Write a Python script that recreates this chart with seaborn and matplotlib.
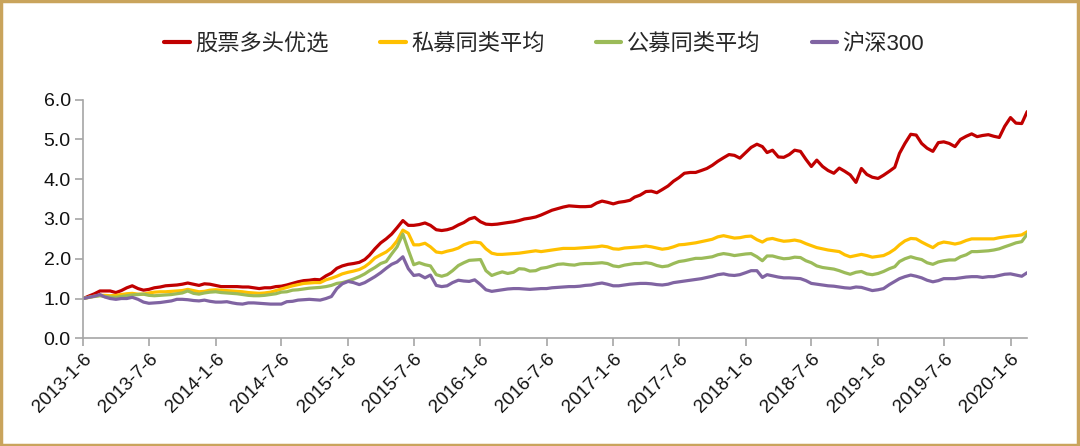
import pandas as pd
import seaborn as sns
import matplotlib.pyplot as plt
from matplotlib.patches import Rectangle

# readings on the 6th and 21st of each month, 2013-01 .. 2020-02
dates_6th = pd.date_range('2013-01-01', periods=86, freq='MS') + pd.Timedelta(days=5)
dates_21st = pd.date_range('2013-01-01', periods=86, freq='MS') + pd.Timedelta(days=20)

series_names = ['股票多头优选', '私募同类平均', '公募同类平均', '沪深300']

stock_long_6th = [
    1.00, 1.12, 1.19, 1.15, 1.27, 1.25, 1.23, 1.29, 1.33, 1.36, 1.36, 1.37,
    1.33, 1.30, 1.30, 1.29, 1.25, 1.27, 1.31, 1.38, 1.45, 1.48, 1.57, 1.76,
    1.86, 1.91, 2.09, 2.40, 2.62, 2.96, 2.84, 2.90, 2.73, 2.73, 2.85, 3.00,
    2.93, 2.86, 2.89, 2.93, 3.00, 3.05, 3.16, 3.26, 3.33, 3.31, 3.32, 3.45,
    3.38, 3.44, 3.55, 3.69, 3.66, 3.83, 4.04, 4.17, 4.22, 4.35, 4.54, 4.60,
    4.67, 4.88, 4.67, 4.56, 4.62, 4.70, 4.32, 4.32, 4.15, 4.20, 3.92, 4.12,
    4.02, 4.20, 4.65, 5.13, 4.90, 4.70, 4.94, 4.82, 5.08, 5.07, 5.12, 5.05,
    5.55, 5.40,
]
stock_long_21st = [
    1.06, 1.19, 1.19, 1.20, 1.32, 1.21, 1.27, 1.32, 1.34, 1.39, 1.33, 1.36,
    1.30, 1.30, 1.29, 1.27, 1.27, 1.30, 1.34, 1.42, 1.46, 1.47, 1.64, 1.82,
    1.88, 1.98, 2.25, 2.50, 2.78, 2.84, 2.86, 2.84, 2.71, 2.77, 2.91, 3.04,
    2.87, 2.87, 2.91, 2.96, 3.02, 3.10, 3.22, 3.30, 3.32, 3.31, 3.40, 3.42,
    3.42, 3.47, 3.60, 3.70, 3.74, 3.95, 4.15, 4.17, 4.27, 4.45, 4.62, 4.53,
    4.80, 4.82, 4.73, 4.55, 4.73, 4.50, 4.48, 4.22, 4.28, 4.11, 4.27, 4.05,
    4.10, 4.30, 4.90, 5.11, 4.78, 4.92, 4.90, 5.00, 5.14, 5.10, 5.08, 5.33,
    5.41, 5.70,
]
private_avg_6th = [
    1.00, 1.06, 1.08, 1.08, 1.12, 1.11, 1.14, 1.17, 1.18, 1.20, 1.20, 1.18,
    1.22, 1.20, 1.18, 1.15, 1.13, 1.16, 1.24, 1.32, 1.38, 1.40, 1.47, 1.56,
    1.66, 1.73, 1.89, 2.10, 2.28, 2.72, 2.35, 2.39, 2.17, 2.19, 2.27, 2.40,
    2.40, 2.14, 2.11, 2.13, 2.16, 2.20, 2.20, 2.24, 2.26, 2.27, 2.29, 2.32,
    2.25, 2.27, 2.29, 2.32, 2.27, 2.26, 2.35, 2.38, 2.43, 2.49, 2.58, 2.52,
    2.56, 2.48, 2.49, 2.47, 2.45, 2.44, 2.33, 2.25, 2.20, 2.10, 2.08, 2.08,
    2.06, 2.15, 2.35, 2.51, 2.42, 2.28, 2.42, 2.37, 2.46, 2.50, 2.50, 2.53,
    2.57, 2.60,
]
private_avg_21st = [
    1.03, 1.08, 1.07, 1.10, 1.13, 1.11, 1.16, 1.17, 1.19, 1.23, 1.17, 1.21,
    1.21, 1.19, 1.17, 1.14, 1.14, 1.20, 1.28, 1.35, 1.39, 1.40, 1.51, 1.62,
    1.69, 1.80, 2.02, 2.17, 2.45, 2.64, 2.35, 2.30, 2.15, 2.22, 2.35, 2.42,
    2.25, 2.11, 2.12, 2.14, 2.18, 2.18, 2.22, 2.26, 2.26, 2.28, 2.30, 2.30,
    2.24, 2.28, 2.30, 2.30, 2.24, 2.30, 2.36, 2.40, 2.46, 2.55, 2.55, 2.53,
    2.57, 2.42, 2.51, 2.44, 2.47, 2.38, 2.28, 2.22, 2.18, 2.05, 2.11, 2.04,
    2.08, 2.24, 2.45, 2.50, 2.35, 2.38, 2.40, 2.40, 2.50, 2.50, 2.50, 2.55,
    2.58, 2.68,
]
public_avg_6th = [
    1.00, 1.05, 1.05, 1.03, 1.07, 1.10, 1.08, 1.08, 1.10, 1.14, 1.13, 1.14,
    1.17, 1.14, 1.12, 1.08, 1.07, 1.10, 1.16, 1.21, 1.24, 1.27, 1.30, 1.38,
    1.44, 1.55, 1.70, 1.88, 2.12, 2.62, 1.85, 1.85, 1.60, 1.60, 1.83, 1.96,
    1.98, 1.58, 1.67, 1.66, 1.74, 1.70, 1.78, 1.86, 1.85, 1.87, 1.88, 1.90,
    1.82, 1.84, 1.88, 1.90, 1.83, 1.82, 1.93, 1.98, 2.01, 2.05, 2.13, 2.08,
    2.12, 2.05, 2.07, 2.03, 2.01, 2.03, 1.90, 1.78, 1.74, 1.65, 1.66, 1.62,
    1.63, 1.75, 1.93, 2.05, 1.98, 1.86, 1.95, 1.97, 2.10, 2.18, 2.20, 2.25,
    2.35, 2.43,
]
public_avg_21st = [
    1.03, 1.07, 1.04, 1.05, 1.09, 1.11, 1.07, 1.09, 1.12, 1.19, 1.11, 1.16,
    1.15, 1.13, 1.10, 1.07, 1.08, 1.12, 1.17, 1.22, 1.26, 1.28, 1.33, 1.40,
    1.49, 1.62, 1.78, 1.93, 2.30, 2.22, 1.90, 1.82, 1.56, 1.70, 1.90, 1.97,
    1.70, 1.63, 1.63, 1.75, 1.69, 1.76, 1.82, 1.87, 1.84, 1.88, 1.89, 1.88,
    1.80, 1.86, 1.88, 1.88, 1.80, 1.88, 1.95, 2.01, 2.03, 2.10, 2.11, 2.10,
    2.13, 1.95, 2.07, 2.00, 2.04, 1.95, 1.82, 1.76, 1.70, 1.61, 1.68, 1.60,
    1.68, 1.80, 2.00, 2.01, 1.90, 1.92, 1.97, 2.05, 2.18, 2.19, 2.22, 2.30,
    2.40, 2.62,
]
csi300_6th = [
    1.00, 1.06, 1.04, 0.98, 1.00, 0.98, 0.88, 0.90, 0.94, 0.98, 0.95, 0.96,
    0.91, 0.92, 0.87, 0.89, 0.88, 0.86, 0.86, 0.93, 0.97, 0.97, 1.00, 1.25,
    1.43, 1.35, 1.47, 1.65, 1.86, 2.05, 1.58, 1.52, 1.33, 1.32, 1.46, 1.43,
    1.35, 1.18, 1.22, 1.25, 1.24, 1.24, 1.25, 1.28, 1.30, 1.31, 1.34, 1.39,
    1.32, 1.34, 1.37, 1.38, 1.35, 1.36, 1.42, 1.46, 1.50, 1.56, 1.62, 1.58,
    1.65, 1.70, 1.60, 1.54, 1.52, 1.50, 1.38, 1.34, 1.31, 1.27, 1.29, 1.24,
    1.22, 1.35, 1.50, 1.59, 1.52, 1.42, 1.50, 1.50, 1.54, 1.55, 1.55, 1.58,
    1.62, 1.56,
]
csi300_21st = [
    1.03, 1.10, 1.00, 1.00, 1.03, 0.91, 0.89, 0.92, 0.98, 0.97, 0.94, 0.93,
    0.91, 0.89, 0.86, 0.89, 0.87, 0.86, 0.92, 0.96, 0.98, 0.96, 1.05, 1.37,
    1.40, 1.40, 1.55, 1.76, 1.92, 1.75, 1.60, 1.59, 1.30, 1.40, 1.44, 1.47,
    1.22, 1.20, 1.24, 1.25, 1.23, 1.25, 1.27, 1.29, 1.30, 1.33, 1.37, 1.36,
    1.32, 1.36, 1.38, 1.37, 1.34, 1.40, 1.44, 1.48, 1.53, 1.60, 1.59, 1.60,
    1.70, 1.53, 1.57, 1.52, 1.51, 1.45, 1.36, 1.32, 1.29, 1.26, 1.28, 1.20,
    1.25, 1.43, 1.55, 1.56, 1.46, 1.45, 1.50, 1.52, 1.55, 1.53, 1.55, 1.61,
    1.59, 1.65,
]

colors = ['#C00000', '#FFC000', '#9BBB59', '#8064A2']

tick_dates = pd.date_range('2013-01-01', '2020-01-31', freq='6MS') + pd.Timedelta(days=5)
tick_labels = [f'{d.year}-{d.month}-{d.day}' for d in tick_dates]

part_6th = pd.DataFrame({'date': dates_6th,
                         series_names[0]: stock_long_6th,
                         series_names[1]: private_avg_6th,
                         series_names[2]: public_avg_6th,
                         series_names[3]: csi300_6th})
part_21st = pd.DataFrame({'date': dates_21st,
                          series_names[0]: stock_long_21st,
                          series_names[1]: private_avg_21st,
                          series_names[2]: public_avg_21st,
                          series_names[3]: csi300_21st})
df = pd.concat([part_6th, part_21st]).sort_values('date')
df = df.melt(id_vars='date', var_name='series', value_name='value')

sns.set_style('white')
plt.rcParams['font.family'] = ['Liberation Sans', 'Noto Sans CJK SC']

fig = plt.figure(figsize=(10.8, 4.46), dpi=100)
ax = fig.add_axes([0.0771, 0.2415, 0.874, 0.535])

sns.lineplot(data=df, x='date', y='value', hue='series', hue_order=series_names,
             palette=colors, linewidth=2.3, ax=ax, legend=False, sort=True)

ax.set_ylim(0, 6)
ax.set_yticks(range(7))
ax.set_yticklabels([f'{v:.1f}' for v in range(7)], fontsize=14, color='#111111')
ax.set_xlim(pd.Timestamp('2013-01-06'), pd.Timestamp('2020-02-21'))
ax.set_xticks(tick_dates)
ax.set_xticklabels(tick_labels, rotation=45, ha='right', rotation_mode='anchor',
                   fontsize=13.5, color='#111111')
ax.set_xlabel('')
ax.set_ylabel('')

for side in ['top', 'right']:
    ax.spines[side].set_visible(False)
for side in ['left', 'bottom']:
    ax.spines[side].set_color('#A6A6A6')
    ax.spines[side].set_linewidth(1.2)
ax.tick_params(axis='both', direction='out', length=6, width=1.2, color='#A6A6A6',
               pad=3, bottom=True, left=True)

handles = [plt.Line2D([], [], color=c, linewidth=3) for c in colors]
fig.legend(handles, series_names, loc='center', bbox_to_anchor=(0.504, 0.9),
           ncol=4, frameon=False, fontsize=16, handlelength=1.15,
           handletextpad=0.25, columnspacing=2.3)

fig.patches.append(Rectangle((0.001, 0.002), 0.997, 0.995, transform=fig.transFigure,
                             fill=False, edgecolor='#C9A45C', linewidth=2.5))

fig.savefig('out.png', dpi=100)
